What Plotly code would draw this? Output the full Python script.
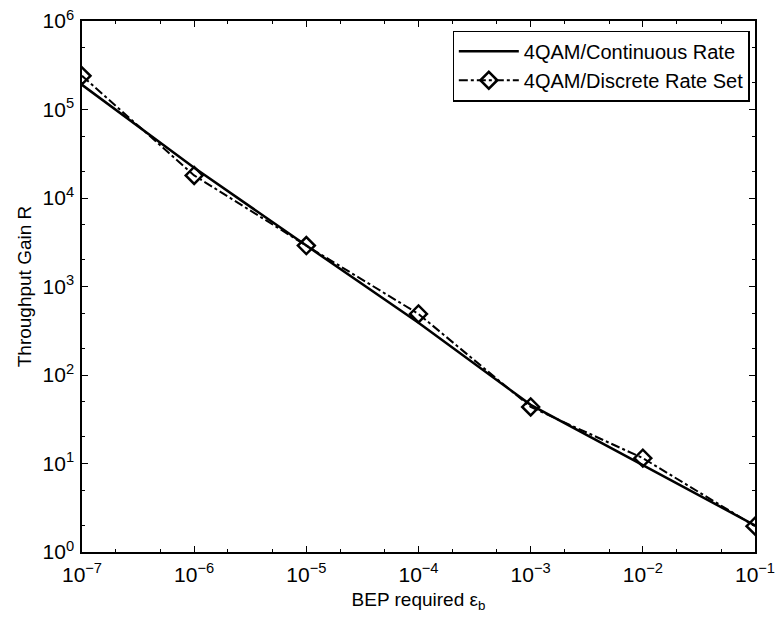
import plotly.graph_objects as go

bep = [1e-7, 1e-6, 1e-5, 1e-4, 1e-3, 1e-2, 1e-1]
continuous_gain = [1.9e5, 2.2e4, 2.9e3, 390, 46, 9.5, 2.0]
discrete_gain = [2.4e5, 1.8e4, 2.9e3, 490, 43.6, 11.5, 1.96]

x_tickvals = [1e-7, 1e-6, 1e-5, 1e-4, 1e-3, 1e-2, 1e-1]
x_ticktext = ["10<sup>−7</sup>", "10<sup>−6</sup>", "10<sup>−5</sup>", "10<sup>−4</sup>",
              "10<sup>−3</sup>", "10<sup>−2</sup>", "10<sup>−1</sup>"]
y_tickvals = [1, 10, 100, 1e3, 1e4, 1e5, 1e6]
y_ticktext = ["10<sup>0</sup>", "10<sup>1</sup>", "10<sup>2</sup>", "10<sup>3</sup>",
              "10<sup>4</sup>", "10<sup>5</sup>", "10<sup>6</sup>"]

FONT = "Liberation Sans, Arial, sans-serif"

fig = go.Figure()
fig.add_trace(go.Scatter(x=bep, y=continuous_gain, mode="lines",
                         name="4QAM/Continuous Rate",
                         line=dict(color="black", width=2.5)))
fig.add_trace(go.Scatter(x=bep, y=discrete_gain, mode="lines+markers",
                         name="4QAM/Discrete Rate Set",
                         line=dict(color="black", width=2, dash="dashdot"),
                         marker=dict(symbol="diamond-open", size=13, color="black",
                                     line=dict(width=2.5, color="black"))))

axis_common = dict(type="log", showgrid=False, zeroline=False, showline=True,
                   linecolor="black", linewidth=1.5, mirror="ticks",
                   ticks="inside", ticklen=6, tickcolor="black", tickwidth=1,
                   automargin=False,
                   tickfont=dict(family=FONT, size=21, color="black"),
                   minor=dict(ticks="inside", ticklen=3, tickcolor="black", tickwidth=1,
                              showgrid=False))

fig.update_xaxes(range=[-7, -1], tickvals=x_tickvals, ticktext=x_ticktext,
                 ticklabelstandoff=3,
                 title=dict(text="BEP required ε<sub>b</sub>",
                            font=dict(family=FONT, size=19, color="black"),
                            standoff=8),
                 **axis_common)
fig.update_yaxes(range=[0, 6], tickvals=y_tickvals, ticktext=y_ticktext,
                 ticklabelstandoff=2,
                 title=dict(text="Throughput Gain R",
                            font=dict(family=FONT, size=19, color="black"),
                            standoff=6),
                 **axis_common)

fig.update_layout(
    width=776, height=622,
    margin=dict(l=82, r=21, t=21, b=70),
    plot_bgcolor="white", paper_bgcolor="white",
    font=dict(family=FONT, color="black"),
    legend=dict(x=0.992, y=0.982, xanchor="right", yanchor="top",
                bordercolor="black", borderwidth=1.2, bgcolor="white",
                font=dict(family=FONT, size=20, color="black"),
                itemwidth=60, tracegroupgap=0),
    showlegend=True,
)

fig.write_html("out.html")
